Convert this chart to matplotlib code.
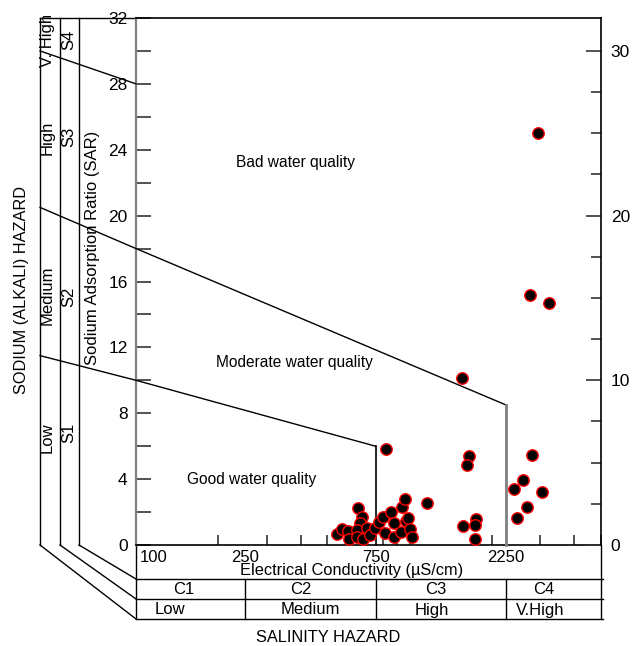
import matplotlib
matplotlib.use('Agg')
import matplotlib.pyplot as plt
import matplotlib.transforms as mtransforms

plt.rcParams['font.family'] = ['Liberation Sans', 'DejaVu Sans']

# ---------------- data ----------------
ec_values = [541, 564, 596, 601, 648, 667, 658, 643, 640, 676, 696, 715, 746, 773,
             800, 811, 851, 875, 875, 933, 937, 965, 967, 986, 1000, 1023,
             816, 1156, 1555, 1644, 1613, 2787, 2585, 2405, 3031, 2689, 2472,
             1754, 1738, 1560, 1729, 2931, 2757, 3233]
sar_values = [0.67, 0.97, 0.87, 0.38, 2.22, 1.72, 1.32, 0.91, 0.50, 0.36, 1.01, 0.61, 1.01, 1.41,
              1.68, 0.75, 1.98, 1.35, 0.50, 0.81, 2.32, 2.77, 1.47, 1.62, 0.95, 0.50,
              5.82, 2.52, 10.14, 5.41, 4.83, 5.44, 3.94, 3.43, 3.21, 2.32, 1.64,
              1.58, 1.19, 1.17, 0.34, 25.0, 15.15, 14.7]

# classification boundary lines (EC, SAR)
low_line_ec = [44.6, 100, 750, 750]
low_line_sar = [11.5, 10, 6, 0]
mid_line_ec = [44.6, 100, 2250, 2250]
mid_line_sar = [20.5, 18, 8.5, 0]
top_line_ec = [44.6, 100]
top_line_sar = [30.0, 28]

ec_label_values = [100, 250, 750, 2250]
ec_label_text = ['100', '250', '750', '2250']
ec_minor_ticks = [200, 300, 400, 500, 600, 700, 800, 900, 1000, 2000, 3000, 4000, 5000]
salinity_bounds = [250, 750, 2250]
class_codes = ['C1', 'C2', 'C3', 'C4']
class_code_ec = [150, 400, 1250, 3100]
class_names = ['Low', 'Medium', 'High', 'V.High']
class_name_ec = [133, 432, 1206, 2993]

sar_ticks_left = list(range(0, 33, 4))
sar_minor_left = list(range(2, 33, 4))
sar_ticks_right = [0, 10, 20, 30]
sar_minor_right = [2.5, 5, 7.5, 12.5, 15, 17.5, 22.5, 25, 27.5]

sodium_levels = ['Low', 'Medium', 'High', 'V. High']
sodium_codes = ['S1', 'S2', 'S3', 'S4']

region_labels = ['Bad water quality', 'Moderate water quality', 'Good water quality']
region_ec = [383, 378, 265]
region_sar = [23.2, 11.1, 3.95]

# ---------------- figure ----------------
W, H = 640, 646
fig = plt.figure(figsize=(W / 100, H / 100), dpi=100)
L, R, T, B = 136, 601, 18, 545
ax = fig.add_axes([L / W, (H - B) / H, (R - L) / W, (B - T) / H])

def fx(px):
    return (px - L) / (R - L)

def fy(py):
    return (B - py) / (B - T)

ax.set_xscale('log')
ax.set_xlim(100, 5000)
ax.set_ylim(0, 32)

for s in ['top', 'bottom']:
    ax.spines[s].set_color('black')
    ax.spines[s].set_linewidth(1.2)
ax.spines['left'].set_color('#808080')
ax.spines['left'].set_linewidth(1.6)
ax.spines['right'].set_visible(False)

ax.set_xticks(ec_minor_ticks)
ax.set_xticks([], minor=True)
ax.set_xticklabels([])
ax.tick_params(axis='x', which='both', direction='in', length=7.5, width=1.2,
               color='#333333', bottom=True, top=False)

ax.set_yticks(sar_ticks_left)
ax.set_yticks(sar_minor_left, minor=True)
ax.set_yticklabels([str(v) for v in sar_ticks_left], fontsize=12.5)
ax.tick_params(axis='y', which='both', direction='in', length=11, width=1.2,
               color='#333333', pad=6)

ax2 = ax.twinx()
ax2.set_ylim(0, 32)
for s in ['top', 'bottom', 'left']:
    ax2.spines[s].set_visible(False)
ax2.spines['right'].set_color('black')
ax2.spines['right'].set_linewidth(1.2)
ax2.set_yticks(sar_ticks_right)
ax2.set_yticks(sar_minor_right, minor=True)
ax2.set_yticklabels([str(v) for v in sar_ticks_right], fontsize=12.5)
ax2.tick_params(axis='y', which='major', direction='in', length=11, width=1.2,
                color='#333333', pad=7)
ax2.tick_params(axis='y', which='minor', direction='in', length=7, width=1.2,
                color='#333333')

# boundary lines
ax.plot(low_line_ec[:3], low_line_sar[:3], color='black', lw=1, clip_on=False, zorder=3)
ax.plot(low_line_ec[2:], low_line_sar[2:], color='black', lw=1.2, clip_on=False, zorder=3)
ax.plot(mid_line_ec[:3], mid_line_sar[:3], color='black', lw=1, clip_on=False, zorder=3)
ax.plot(mid_line_ec[2:], mid_line_sar[2:], color='#808080', lw=2, clip_on=False, zorder=3)
ax.plot(top_line_ec, top_line_sar, color='black', lw=1, clip_on=False, zorder=3)

# data points
ax.scatter(ec_values, sar_values, s=68, c='black', edgecolors='red', linewidths=1,
           zorder=5)

# region labels
for t, xv, yv in zip(region_labels, region_ec, region_sar):
    ax.text(xv, yv, t, ha='center', va='center', fontsize=11.2)

# ---------------- left panel (sodium hazard) ----------------
ta = ax.transAxes
kw = dict(transform=ta, color='black', lw=1, clip_on=False)
for px in [40, 60, 79]:
    ax.plot([fx(px), fx(px)], [fy(545), fy(T)], **kw)
ax.plot([fx(40), fx(L)], [fy(T), fy(T)], **kw)
# diagonals to table
for px0, py1 in [(40, 619), (60, 599), (79, 579)]:
    ax.plot([fx(px0), fx(L)], [fy(545), fy(py1)], **kw)

ax.text(fx(22), fy(290), 'SODIUM (ALKALI) HAZARD', transform=ta, rotation=90,
        ha='center', va='center', fontsize=11.8)
ax.text(fx(93), fy(248), 'Sodium Adsorption Ratio (SAR)', transform=ta, rotation=90,
        ha='center', va='center', fontsize=12)
for t, py in zip(sodium_levels, [438, 295, 138, 40]):
    ax.text(fx(47.5), fy(py), t, transform=ta, rotation=90, ha='center', va='center',
            fontsize=12)
for t, py in zip(sodium_codes, [433, 297, 137, 40]):
    ax.text(fx(69), fy(py), t, transform=ta, rotation=90, ha='center', va='center',
            fontsize=12)

# ---------------- bottom table (salinity hazard) ----------------
for py in [579, 599, 619]:
    ax.plot([0, fx(603)], [fy(py), fy(py)], **kw)
ax.plot([0, 0], [fy(545), fy(619)], **kw)
ax.plot([1, 1], [fy(545), fy(619)], **kw)
bt = mtransforms.blended_transform_factory(ax.transData, ax.transAxes)
for xv in salinity_bounds:
    ax.plot([xv, xv], [fy(579), fy(619)], transform=bt, color='black', lw=1, clip_on=False)

for xv, t in zip(ec_label_values, ec_label_text):
    if xv == 100:
        ax.annotate(t, (xv, fy(557)), xycoords=bt, xytext=(3, 0), textcoords='offset points',
                    ha='left', va='center', fontsize=12, annotation_clip=False)
    else:
        ax.text(xv, fy(557), t, transform=bt, ha='center', va='center', fontsize=12)
ax.text(fx(352), fy(571), 'Electrical Conductivity (\u00b5S/cm)', transform=ta,
        ha='center', va='center', fontsize=11.8)
for xv, t in zip(class_code_ec, class_codes):
    ax.text(xv, fy(590), t, transform=bt, ha='center', va='center', fontsize=12)
for xv, t in zip(class_name_ec, class_names):
    ax.text(xv, fy(610), t, transform=bt, ha='center', va='center', fontsize=12)
ax.text(fx(328), fy(637), 'SALINITY HAZARD', transform=ta, ha='center', va='center',
        fontsize=11.8)

fig.savefig('out.png', dpi=100)
